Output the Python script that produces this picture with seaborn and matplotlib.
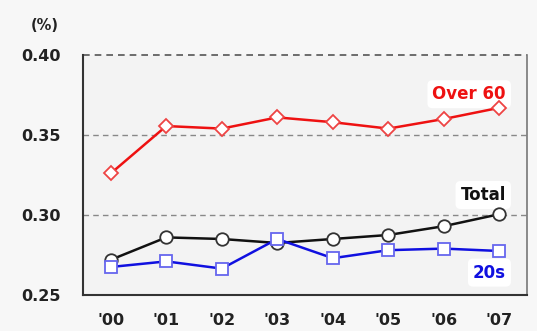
import matplotlib
matplotlib.use("Agg")
import matplotlib.pyplot as plt
import seaborn as sns
import pandas as pd

years = ["'00", "'01", "'02", "'03", "'04", "'05", "'06", "'07"]
over60 = [0.326, 0.3556, 0.354, 0.361, 0.358, 0.354, 0.360, 0.367]
total = [0.272, 0.286, 0.285, 0.2825, 0.285, 0.2875, 0.293, 0.3005]
twenties = [0.2675, 0.271, 0.2665, 0.285, 0.273, 0.278, 0.279, 0.2775]
yticks = [0.25, 0.30, 0.35, 0.40]
ytick_labels = ["0.25", "0.30", "0.35", "0.40"]

sns.set_theme(style="white")
plt.rcParams['font.family'] = ['DejaVu Sans']

fig = plt.figure(figsize=(5.37, 3.31), dpi=100)
fig.patch.set_facecolor("#f7f7f7")
ax = fig.add_axes([0.1546, 0.1088, 0.8268, 0.725])
ax.set_facecolor("#f3f3f3")

x = list(range(len(years)))
series = [
    (over60, "#ee1111", "D", "#ee4444", 7),
    (total, "#111111", "o", "#333333", 9),
    (twenties, "#1010e0", "s", "#6666ee", 9),
]
for vals, col, mk, ec, ms in series:
    df = pd.DataFrame({"x": x, "y": vals})
    sns.lineplot(data=df, x="x", y="y", ax=ax, color=col, linewidth=1.8,
                 marker=mk, markersize=ms, markerfacecolor="white",
                 markeredgecolor=ec, markeredgewidth=1.3, zorder=3)

ax.set_xlim(-0.5, 7.5)
ax.set_ylim(0.25, 0.40)
ax.set_xticks(x)
ax.set_xticklabels(years, fontweight="bold", fontsize=11.5, color="#222222")
ax.set_yticks(yticks)
ax.set_yticklabels(ytick_labels, fontweight="bold", fontsize=11.5, color="#222222")
ax.set_xticks([i + 0.5 for i in range(7)], minor=True)
ax.tick_params(axis="x", which="major", length=0, pad=13)
ax.tick_params(axis="x", which="minor", direction="in", length=5, color="#444444", width=1)
ax.tick_params(axis="y", length=0, pad=16)
ax.set_xlabel("")
ax.set_ylabel("")

for yv in [0.30, 0.35]:
    ax.axhline(yv, color="#888888", linestyle=(0, (4, 3)), linewidth=1, zorder=1)

for side in ["left", "bottom"]:
    ax.spines[side].set_color("#333333")
    ax.spines[side].set_linewidth(1.5)
ax.spines["right"].set_color("#777777")
ax.spines["right"].set_linewidth(1.2)
ax.spines["top"].set_visible(False)
ax.axhline(0.40, color="#555555", linestyle=(0, (4, 3)), linewidth=1.2, zorder=1, clip_on=False)

bbox = dict(boxstyle="round,pad=0.3", facecolor="white", edgecolor="none")
ax.text(7.12, 0.3755, "Over 60", color="#ee1111", fontweight="bold", fontsize=12,
        ha="right", va="center", bbox=bbox, zorder=2)
ax.text(7.12, 0.3125, "Total", color="#111111", fontweight="bold", fontsize=12,
        ha="right", va="center", bbox=bbox, zorder=2)
ax.text(7.12, 0.264, "20s", color="#1010e0", fontweight="bold", fontsize=12,
        ha="right", va="center", bbox=bbox, zorder=2)

fig.text(45 / 537, 1 - 25 / 331, "(%)", fontweight="bold", fontsize=10.5,
         color="#222222", ha="center", va="center")

fig.savefig("out.png", dpi=100, facecolor=fig.get_facecolor())
